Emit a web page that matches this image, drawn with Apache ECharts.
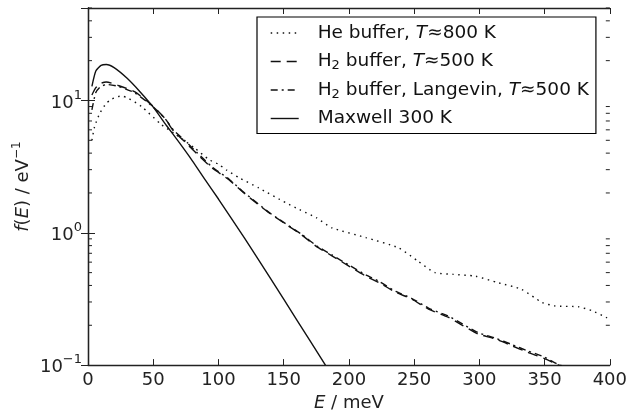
<!DOCTYPE html>
<html>
<head>
<meta charset="utf-8">
<script src="https://cdn.jsdelivr.net/npm/echarts@6/dist/echarts.min.js"></script>
<style>
  html, body { margin: 0; padding: 0; background: #fff; }
  #chart { width: 630px; height: 417px; }
</style>
</head>
<body>
<div id="chart"></div>
<script>
// energy distributions, E in meV, f(E) in 1/eV
const heE = [3, 5, 9, 14, 18, 23, 26, 31, 41, 56, 66, 82, 93, 100, 106, 116, 131, 152, 162, 175, 187, 213, 238, 253, 266, 280, 297, 314, 332, 348, 358, 376, 386, 397, 400];
const heF = [5.0, 6.3, 8.0, 9.5, 10.2, 10.7, 10.8, 10.4, 9.0, 6.6, 5.65, 4.35, 3.56, 3.3, 2.99, 2.6, 2.18, 1.68, 1.5, 1.3, 1.09, 0.92, 0.77, 0.61, 0.50, 0.485, 0.47, 0.42, 0.375, 0.298, 0.28, 0.276, 0.258, 0.23, 0.22];

const h2E = [3, 6, 10, 14, 23, 36, 49, 59, 66, 74, 84, 95, 108, 118, 129, 139, 150, 164, 175, 187, 200, 213, 223, 236, 248, 261, 276, 287, 299, 312, 325, 337, 350, 358, 363];
const h2F = [11.0, 12.5, 13.5, 13.8, 13.0, 11.6, 9.2, 7.3, 5.8, 4.9, 3.9, 3.1, 2.52, 2.06, 1.68, 1.41, 1.19, 0.96, 0.79, 0.67, 0.56, 0.47, 0.42, 0.355, 0.316, 0.265, 0.23, 0.2, 0.172, 0.158, 0.14, 0.125, 0.112, 0.103, 0.098];

const lgE = [3, 6, 10, 15, 23, 36, 49, 59, 66, 74, 84, 95, 108, 118, 129, 139, 150, 164, 175, 187, 200, 213, 223, 236, 248, 261, 276, 287, 299, 312, 325, 337, 350, 358, 363];
const lgF = [8.5, 11.5, 12.8, 13.2, 12.8, 11.4, 9.1, 7.3, 5.9, 5.0, 4.0, 3.15, 2.55, 2.08, 1.70, 1.42, 1.20, 0.97, 0.80, 0.68, 0.57, 0.48, 0.43, 0.36, 0.32, 0.27, 0.235, 0.205, 0.176, 0.16, 0.143, 0.128, 0.115, 0.104, 0.099];

const mxE = [3, 6, 10, 14, 20, 30, 40, 50, 60, 70, 80, 90, 100, 120, 140, 160, 182];
const mxF = [12.8, 16.7, 18.4, 18.7, 17.7, 14.7, 11.6, 8.9, 6.5, 4.8, 3.5, 2.5, 1.8, 0.91, 0.45, 0.22, 0.1];

const minorTicks = [0.2, 0.3, 0.4, 0.5, 0.6, 0.7, 0.8, 0.9, 2, 3, 4, 5, 6, 7, 8, 9, 20, 30, 40, 50];

const FONT = 'DejaVu Sans';
const INK = '#111';
const AXIS = '#222';

const legendText = {
  he: '{g|}He buffer, {i|T}≈800 K',
  h2: '{g|}H{sub|2} buffer, {i|T}≈500 K',
  lg: '{g|}H{sub|2} buffer, Langevin, {i|T}≈500 K',
  mx: '{g|}Maxwell 300 K'
};

const pairs = (xs, ys) => xs.map((x, i) => [x, ys[i]]);

function lineSeries(name, xs, ys, type) {
  return {
    name: name,
    type: 'line',
    data: pairs(xs, ys),
    symbol: 'none',
    smooth: 0.2,
    clip: true,
    lineStyle: { color: INK, width: 1.4, type: type },
    itemStyle: { color: INK }
  };
}

function powLabel(v) {
  const p = Math.round(Math.log10(v));
  if (Math.abs(Math.log10(v) - p) > 1e-6) return '';
  const s = p < 0 ? '−' + (-p) : String(p);
  return '{b|10}{s|' + s + '}';
}

const chart = echarts.init(document.getElementById('chart'));

chart.setOption({
  animation: false,
  backgroundColor: '#fff',
  textStyle: { fontFamily: FONT },
  grid: { left: 88, right: 18, top: 8, bottom: 49 },
  legend: {
    data: ['he', 'h2', 'lg', 'mx'],
    orient: 'vertical',
    left: 257,
    top: 17,
    padding: [5, 7, 4, 13],
    itemGap: 6.5,
    itemWidth: 28,
    itemHeight: 14,
    borderColor: '#000',
    borderWidth: 1.2,
    backgroundColor: '#fff',
    selectedMode: false,
    lineStyle: { width: 1.4 },
    itemStyle: { opacity: 0, borderWidth: 0 },
    formatter: (name) => legendText[name],
    textStyle: {
      fontFamily: FONT,
      fontSize: 18.5,
      color: INK,
      lineHeight: 22,
      rich: {
        g: { width: 14, fontFamily: FONT, fontSize: 18.5, lineHeight: 22 },
        i: { fontStyle: 'italic', fontFamily: FONT, fontSize: 18.5, lineHeight: 22, color: INK },
        sub: { fontFamily: FONT, fontSize: 13, lineHeight: 13, verticalAlign: 'top', padding: [9, 0, 0, 0], color: INK }
      }
    }
  },
  xAxis: [
    {
      type: 'value',
      min: 0,
      max: 400,
      interval: 50,
      name: '{i|E} / meV',
      nameLocation: 'middle',
      nameGap: 27,
      nameTextStyle: {
        fontFamily: FONT, fontSize: 18, color: AXIS,
        rich: { i: { fontStyle: 'italic', fontFamily: FONT, fontSize: 18, color: AXIS } }
      },
      axisLine: { show: true, lineStyle: { color: AXIS, width: 1.3 } },
      axisTick: { show: true, inside: true, length: 6, lineStyle: { color: AXIS, width: 1 } },
      axisLabel: { fontFamily: FONT, fontSize: 18, color: AXIS, margin: 6 },
      splitLine: { show: false }
    },
    {
      type: 'value',
      position: 'top',
      min: 0,
      max: 400,
      interval: 50,
      axisLine: { show: true, lineStyle: { color: AXIS, width: 1.3 } },
      axisTick: { show: true, inside: true, length: 6, lineStyle: { color: AXIS, width: 1 } },
      axisLabel: { show: false },
      splitLine: { show: false }
    }
  ],
  yAxis: [
    {
      type: 'log',
      logBase: 10,
      min: 0.1,
      max: 50,
      name: '{i|f}({i|E}) / eV{s|−1}',
      nameLocation: 'middle',
      nameRotate: 90,
      nameGap: 56,
      nameMoveOverlap: false,
      nameTextStyle: {
        fontFamily: FONT, fontSize: 18, color: AXIS,
        rich: {
          i: { fontStyle: 'italic', fontFamily: FONT, fontSize: 18, color: AXIS, verticalAlign: 'bottom', lineHeight: 18 },
          s: { fontFamily: FONT, fontSize: 12, color: AXIS, verticalAlign: 'bottom', lineHeight: 12, padding: [0, 0, 9, 0] }
        }
      },
      axisLine: { show: true, lineStyle: { color: AXIS, width: 1.3 } },
      axisTick: { show: true, inside: true, length: 7, lineStyle: { color: AXIS, width: 1 } },
      axisLabel: {
        formatter: powLabel,
        margin: 6,
        padding: [5, 0, 0, 0],
        rich: {
          b: { fontFamily: FONT, fontSize: 18, color: AXIS, lineHeight: 18, verticalAlign: 'bottom' },
          s: { fontFamily: FONT, fontSize: 13, color: AXIS, lineHeight: 13, verticalAlign: 'bottom', padding: [0, 0, 10, 0] }
        }
      },
      splitLine: { show: false }
    },
    {
      type: 'log',
      logBase: 10,
      min: 0.1,
      max: 50,
      position: 'right',
      axisLine: { show: true, lineStyle: { color: AXIS, width: 1.3 } },
      axisTick: { show: true, inside: true, length: 7, lineStyle: { color: AXIS, width: 1 } },
      axisLabel: { show: false },
      splitLine: { show: false }
    }
  ],
  series: [
    lineSeries('he', heE, heF, [1.5, 4.5]),
    lineSeries('h2', h2E, h2F, [10, 6]),
    lineSeries('lg', lgE, lgF, [7, 4, 2, 4]),
    lineSeries('mx', mxE, mxF, 'solid'),
    {
      // minor log ticks on left and right frame
      type: 'custom',
      silent: true,
      clip: false,
      z: 5,
      data: minorTicks.map(v => [0, v]),
      renderItem: (params, api) => {
        const v = api.value(1);
        const l = api.coord([0, v]);
        const r = api.coord([400, v]);
        return {
          type: 'group',
          children: [
            { type: 'line', shape: { x1: l[0], y1: l[1], x2: l[0] + 4, y2: l[1] }, style: { stroke: AXIS, lineWidth: 1 } },
            { type: 'line', shape: { x1: r[0] - 4, y1: r[1], x2: r[0], y2: r[1] }, style: { stroke: AXIS, lineWidth: 1 } }
          ]
        };
      }
    }
  ]
});
</script>
</body>
</html>
